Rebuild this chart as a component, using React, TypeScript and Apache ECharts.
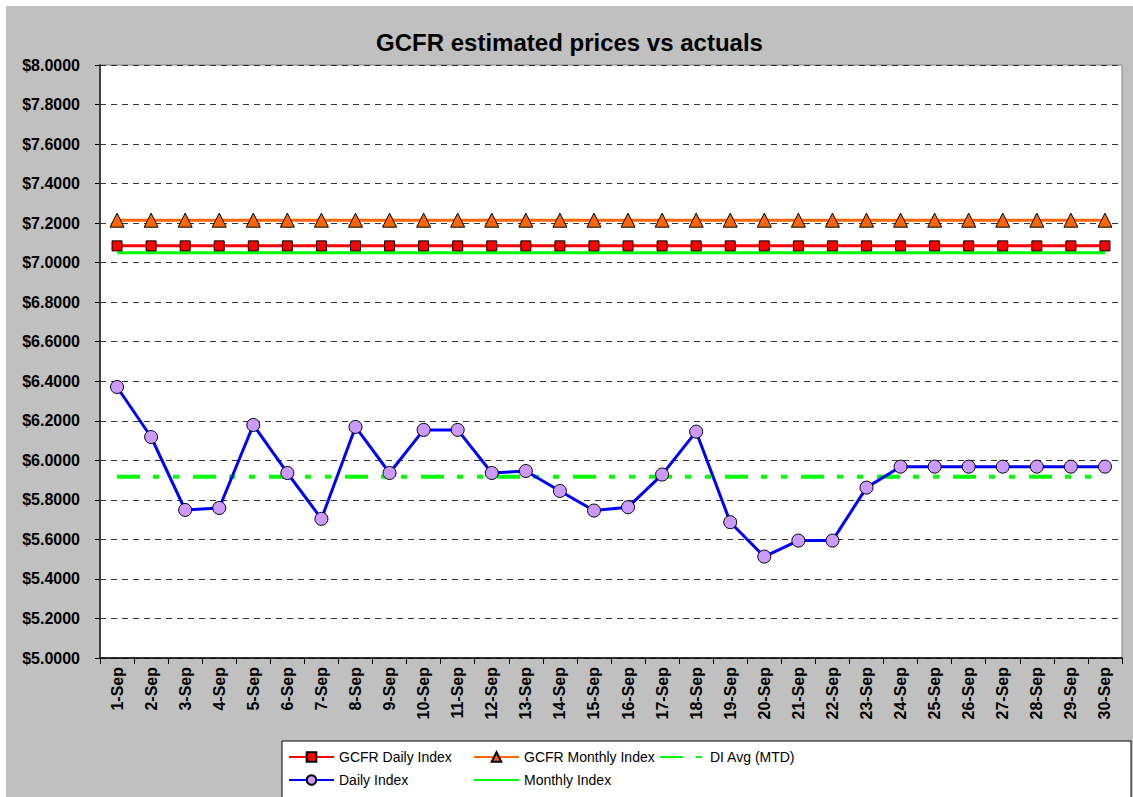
import React, { useEffect, useRef } from 'react';
import * as echarts from 'echarts';

const categories = [
  '1-Sep', '2-Sep', '3-Sep', '4-Sep', '5-Sep', '6-Sep', '7-Sep', '8-Sep', '9-Sep', '10-Sep',
  '11-Sep', '12-Sep', '13-Sep', '14-Sep', '15-Sep', '16-Sep', '17-Sep', '18-Sep', '19-Sep', '20-Sep',
  '21-Sep', '22-Sep', '23-Sep', '24-Sep', '25-Sep', '26-Sep', '27-Sep', '28-Sep', '29-Sep', '30-Sep',
];

const gcfrDailyIndex = [
  7.085, 7.085, 7.085, 7.085, 7.085, 7.085, 7.085, 7.085, 7.085, 7.085,
  7.085, 7.085, 7.085, 7.085, 7.085, 7.085, 7.085, 7.085, 7.085, 7.085,
  7.085, 7.085, 7.085, 7.085, 7.085, 7.085, 7.085, 7.085, 7.085, 7.085,
];

const gcfrMonthlyIndex = [
  7.215, 7.215, 7.215, 7.215, 7.215, 7.215, 7.215, 7.215, 7.215, 7.215,
  7.215, 7.215, 7.215, 7.215, 7.215, 7.215, 7.215, 7.215, 7.215, 7.215,
  7.215, 7.215, 7.215, 7.215, 7.215, 7.215, 7.215, 7.215, 7.215, 7.215,
];

const diAvgMtd = [
  5.917, 5.917, 5.917, 5.917, 5.917, 5.917, 5.917, 5.917, 5.917, 5.917,
  5.917, 5.917, 5.917, 5.917, 5.917, 5.917, 5.917, 5.917, 5.917, 5.917,
  5.917, 5.917, 5.917, 5.917, 5.917, 5.917, 5.917, 5.917, 5.917, 5.917,
];

const dailyIndex = [
  6.371, 6.118, 5.749, 5.759, 6.179, 5.936, 5.704, 6.169, 5.936, 6.154,
  6.154, 5.936, 5.946, 5.845, 5.746, 5.763, 5.928, 6.145, 5.687, 5.513,
  5.594, 5.594, 5.862, 5.968, 5.968, 5.968, 5.968, 5.968, 5.968, 5.968,
];

const monthlyIndex = [
  7.05, 7.05, 7.05, 7.05, 7.05, 7.05, 7.05, 7.05, 7.05, 7.05,
  7.05, 7.05, 7.05, 7.05, 7.05, 7.05, 7.05, 7.05, 7.05, 7.05,
  7.05, 7.05, 7.05, 7.05, 7.05, 7.05, 7.05, 7.05, 7.05, 7.05,
];

const yMin = 5;
const yMax = 8;
const yStep = 0.2;

const FONT = '"Liberation Sans", Arial, sans-serif';

export default function App() {
  const ref = useRef<HTMLDivElement>(null);

  useEffect(() => {
    if (!ref.current) return;
    const chart = echarts.init(ref.current, undefined, { renderer: 'svg' });

    const legendText = { fontFamily: FONT, fontSize: 14, color: '#000' };
    const mkLegend = (name: string, left: number, top: number, noSymbol = false) => ({
      data: [
        noSymbol
          ? { name, itemStyle: { color: 'rgba(0,0,0,0)', borderWidth: 0, opacity: 0 } }
          : { name },
      ],
      left,
      top,
      padding: 0,
      itemWidth: 45,
      itemHeight: 12,
      itemGap: 0,
      selectedMode: false,
      textStyle: legendText,
    });

    chart.setOption({
      animation: false,
      backgroundColor: '#C0C0C0',
      title: {
        text: 'GCFR estimated prices vs actuals',
        left: 'center',
        top: 24,
        padding: 0,
        textStyle: { fontFamily: FONT, fontSize: 24, fontWeight: 'bold', color: '#000' },
      },
      graphic: [
        {
          type: 'rect',
          shape: { x: 276, y: 735, width: 849, height: 70 },
          style: { fill: '#fff', stroke: '#000', lineWidth: 1 },
          silent: true,
          z: 0,
        },
      ],
      legend: [
        mkLegend('GCFR Daily Index', 282, 744),
        mkLegend('GCFR Monthly Index', 467, 744),
        mkLegend('DI Avg (MTD)', 653, 744, true),
        mkLegend('Daily Index', 282, 767),
        mkLegend('Monthly Index', 467, 767, true),
      ],
      grid: {
        left: 94,
        top: 59,
        right: 11,
        bottom: 139,
        show: true,
        backgroundColor: '#fff',
        borderColor: '#808080',
        borderWidth: 1,
      },
      xAxis: {
        type: 'category',
        data: categories,
        boundaryGap: true,
        axisLine: { show: true, lineStyle: { color: '#000', width: 1.5 } },
        axisTick: { show: true, alignWithLabel: false, length: 6, lineStyle: { color: '#000' } },
        axisLabel: {
          rotate: 90,
          interval: 0,
          margin: 9,
          fontFamily: FONT,
          fontSize: 16,
          fontWeight: 'bold',
          color: '#000',
        },
        splitLine: { show: false },
      },
      yAxis: {
        type: 'value',
        min: yMin,
        max: yMax,
        interval: yStep,
        axisLine: { show: true, lineStyle: { color: '#404040', width: 2 } },
        axisTick: { show: true, length: 5, lineStyle: { color: '#000' } },
        axisLabel: {
          margin: 20,
          fontFamily: FONT,
          fontSize: 16,
          fontWeight: 'bold',
          color: '#000',
          formatter: (v: number) => '$' + v.toFixed(4),
        },
        splitLine: { show: true, lineStyle: { color: '#333', type: [6, 5], width: 1 } },
      },
      series: [
        {
          name: 'GCFR Daily Index',
          type: 'line',
          data: gcfrDailyIndex,
          symbol: 'rect',
          symbolSize: 10,
          lineStyle: { color: '#FF0000', width: 3 },
          itemStyle: { color: '#FF0000', borderColor: '#000', borderWidth: 1 },
        },
        {
          name: 'GCFR Monthly Index',
          type: 'line',
          data: gcfrMonthlyIndex,
          symbol: 'triangle',
          symbolSize: 14,
          lineStyle: { color: '#FF6600', width: 3 },
          itemStyle: { color: '#FF6600', borderColor: '#000', borderWidth: 1 },
        },
        {
          name: 'DI Avg (MTD)',
          type: 'line',
          data: diAvgMtd,
          symbol: 'none',
          lineStyle: { color: '#00FF00', width: 4, type: [23, 13, 6, 14, 6, 14] },
          itemStyle: { color: '#00FF00' },
        },
        {
          name: 'Daily Index',
          type: 'line',
          data: dailyIndex,
          symbol: 'circle',
          symbolSize: 13,
          lineStyle: { color: '#0000FF', width: 3 },
          itemStyle: { color: '#CC99FF', borderColor: '#000', borderWidth: 1 },
        },
        {
          name: 'Monthly Index',
          type: 'line',
          data: monthlyIndex,
          symbol: 'none',
          lineStyle: { color: '#00FF00', width: 3 },
          itemStyle: { color: '#00FF00' },
        },
      ],
    });

    return () => chart.dispose();
  }, []);

  return (
    <div style={{ position: 'absolute', left: 0, top: 0, width: 1133, height: 797, background: '#fff', overflow: 'hidden' }}>
      <div ref={ref} style={{ position: 'absolute', left: 6, top: 6, width: 1127, height: 791 }} />
    </div>
  );
}
